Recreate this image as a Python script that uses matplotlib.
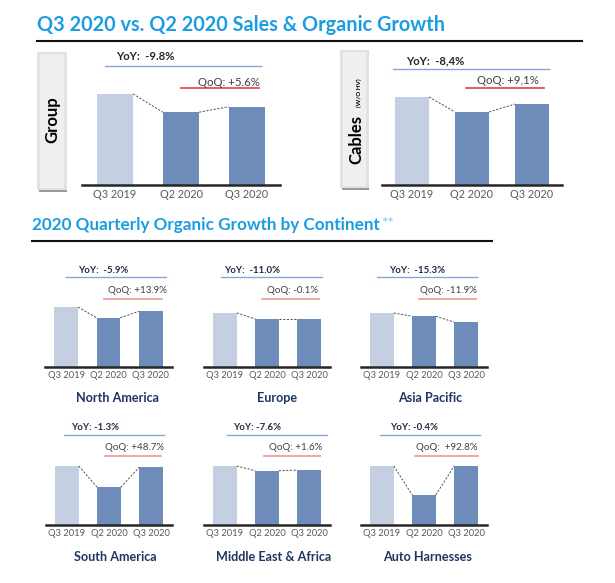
import matplotlib
matplotlib.use("Agg")
import matplotlib.pyplot as plt
from matplotlib.patches import Rectangle
from matplotlib.lines import Line2D

plt.rcParams['font.family'] = ['Lato', 'DejaVu Sans']

W, H = 615, 583

quarters = ["Q3 2019", "Q2 2020", "Q3 2020"]

# bar heights, Q3 2019 = 100 in every panel
group_sales = [100, 80, 86]
cables_sales = [100, 83, 92]
north_america = [100, 82, 93]
europe = [100, 89, 89]
asia_pacific = [100, 94, 83]
south_america = [100, 64, 98]
middle_east_africa = [100, 92, 93]
auto_harnesses = [100, 51, 100]

panel_names = ["Group", "Cables", "North America", "Europe", "Asia Pacific",
               "South America", "Middle East & Africa", "Auto Harnesses"]
yoy_labels = ["YoY:  -9.8%", "YoY:  -8,4%", "YoY:  -5.9%", "YoY:  -11.0%", "YoY:  -15.3%",
              "YoY: -1.3%", "YoY: -7.6%", "YoY: -0.4%"]
qoq_labels = ["QoQ: +5.6%", "QoQ: +9,1%", "QoQ: +13.9%", "QoQ: -0.1%", "QoQ: -11.9%",
              "QoQ: +48.7%", "QoQ: +1.6%", "QoQ:  +92.8%"]

LIGHT = '#c4cfe2'
DARK = '#6e8cb9'
BLUE_LINE = '#8aa6d8'
TITLE_BLUE = '#1b9de2'
NAVY = '#1f3562'
SALMON = '#ec9990'

fig = plt.figure(figsize=(W / 100, H / 100), dpi=100)
renderer = fig.canvas.get_renderer()


def fx(x):
    return x / W


def fy(y):
    return 1 - y / H


def hline(x0, x1, y, color, lw):
    fig.add_artist(Line2D([fx(x0), fx(x1)], [fy(y), fy(y)], color=color, lw=lw,
                          transform=fig.transFigure))


def size_for(s, target, weight='normal'):
    # font size that makes string s about target pixels wide
    t = fig.text(0, 0, s, fontsize=10, fontweight=weight)
    w = t.get_window_extent(renderer).width
    t.remove()
    return 10 * target / w


TOP_TICK = size_for("Q3 2019", 43)
CONT_TICK = size_for("Q3 2019", 37)
TOP_YOY = size_for("YoY:  -9.8%", 59, 'bold')
TOP_QOQ = size_for("QoQ: +5.6%", 62)
CONT_YOY = size_for("YoY:  -5.9%", 50, 'bold')
CONT_QOQ = size_for("QoQ: +13.9%", 59)
NAME_SIZE = size_for("North America", 83, 'bold')


def draw_bars(values, x0, x1, yb, h100, width, labelsize):
    ax = fig.add_axes([fx(x0), fy(yb), (x1 - x0) / W, h100 / H])
    ax.bar(range(3), values, width=width, color=[LIGHT, DARK, DARK])
    for i in range(2):
        ax.plot([i + width / 2, i + 1 - width / 2], [values[i], values[i + 1]],
                ls=(0, (2.2, 1.6)), color='#505050', lw=0.7, clip_on=False)
    ax.set_xlim(-0.5, 2.5)
    ax.set_ylim(0, 100)
    for s in ['top', 'left', 'right']:
        ax.spines[s].set_visible(False)
    ax.spines['bottom'].set_color('#262626')
    ax.spines['bottom'].set_linewidth(1.8)
    ax.set_yticks([])
    ax.set_xticks(range(3), quarters)
    ax.tick_params(axis='x', length=0, pad=3, labelsize=labelsize, labelcolor='#595959')
    return ax


def annotate(i, yoy_x, yoy_y, blue, qoq_x, qoq_y, red, small, red_color):
    fig.text(fx(yoy_x), fy(yoy_y), yoy_labels[i], ha='left', va='center',
             fontsize=CONT_YOY if small else TOP_YOY, fontweight='bold',
             color='#1f2a44' if small else '#262626')
    hline(blue[0], blue[1], blue[2], BLUE_LINE, 1.0)
    fig.text(fx(qoq_x), fy(qoq_y), qoq_labels[i], ha='right', va='center',
             fontsize=CONT_QOQ if small else TOP_QOQ, color='#404040')
    hline(red[0], red[1], red[2], red_color, 1.2)


def name(i, x, y):
    fig.text(fx(x), fy(y), panel_names[i], ha='center', va='center',
             fontsize=NAME_SIZE, fontweight='bold', color=NAVY)


def side_box(x0, x1, y0, y1):
    # grey tab with a soft shadow underneath
    fig.add_artist(Rectangle((fx(x0 + 1), fy(y1 + 2)), (x1 - x0) / W, 4 / H,
                             transform=fig.transFigure, color='#9a9a9a', lw=0))
    fig.add_artist(Rectangle((fx(x0 - 1), fy(y1)), (x1 - x0 + 2) / W, (y1 - y0) / H,
                             transform=fig.transFigure, color='#e2e2e2', lw=0))
    fig.add_artist(Rectangle((fx(x0 + 2), fy(y1 - 2)), (x1 - x0 - 4) / W, (y1 - y0 - 4) / H,
                             transform=fig.transFigure, color='#efefef', lw=0))


# titles
t1 = fig.text(fx(37), fy(25), "Q3 2020 vs. Q2 2020 Sales & Organic Growth",
              ha='left', va='center', fontweight='bold', color=TITLE_BLUE,
              fontsize=size_for("Q3 2020 vs. Q2 2020 Sales & Organic Growth", 409, 'bold'))
hline(37, 582, 41, '#111111', 1.5)

t2 = fig.text(fx(32), fy(225), "2020 Quarterly Organic Growth by Continent",
              ha='left', va='center', fontweight='bold', color=TITLE_BLUE,
              fontsize=size_for("2020 Quarterly Organic Growth by Continent", 350, 'bold'))
w2 = t2.get_window_extent(renderer).width
fig.text(fx(32 + w2 + 1), fy(224), "**", ha='left', va='center',
         fontsize=11, color='#7cc4ee')
hline(32, 492, 241, '#111111', 1.5)

# top panels: Group and Cables
side_box(38, 66, 52, 190)
fig.text(fx(52), fy(120), panel_names[0], rotation=90, ha='center', va='center',
         fontsize=12, fontweight='bold', color='black')
draw_bars(group_sales, 82, 280, 185, 91, 0.55, TOP_TICK)
annotate(0, 116, 57, (105, 261, 66), 260, 82, (181, 259, 88), False, '#e0413f')

side_box(341, 368, 50, 188)
fig.text(fx(361), fy(164), panel_names[1], rotation=90, ha='left', va='baseline',
         rotation_mode='anchor', fontsize=12, fontweight='bold', color='black')
fig.text(fx(361), fy(107), "(W/O HV)", rotation=90, ha='left', va='baseline',
         rotation_mode='anchor', fontsize=4.5, fontweight='bold', color='black')
draw_bars(cables_sales, 382, 562, 185, 88, 0.57, TOP_TICK)
annotate(1, 406, 61, (393, 549, 69), 539, 81, (466, 544, 88), False, '#e0413f')

# continent panels
draw_bars(north_america, 45, 172, 367, 60, 0.56, CONT_TICK)
annotate(2, 78, 270, (66, 166, 277), 167, 291, (104, 162, 299), True, SALMON)
name(2, 118, 398)

draw_bars(europe, 204, 330, 367, 54, 0.56, CONT_TICK)
annotate(3, 224, 270, (221, 322, 277), 318, 291, (262, 319, 299), True, SALMON)
name(3, 277, 398)

draw_bars(asia_pacific, 361, 487, 367, 54, 0.56, CONT_TICK)
annotate(4, 389, 270, (377, 477, 277), 477, 291, (419, 476, 299), True, SALMON)
name(4, 430, 398)

draw_bars(south_america, 46, 172, 525, 59, 0.56, CONT_TICK)
annotate(5, 71, 428, (64, 164, 435), 164, 448, (105, 161, 456), True, SALMON)
name(5, 115, 557)

draw_bars(middle_east_africa, 204, 330, 525, 59, 0.56, CONT_TICK)
annotate(6, 233, 428, (227, 327, 435), 322, 448, (264, 320, 456), True, SALMON)
name(6, 274, 557)

draw_bars(auto_harnesses, 361, 487, 525, 59, 0.56, CONT_TICK)
annotate(7, 390, 428, (380, 480, 435), 478, 448, (415, 478, 456), True, SALMON)
name(7, 428, 557)

fig.savefig("out.png", dpi=100, facecolor='white')
